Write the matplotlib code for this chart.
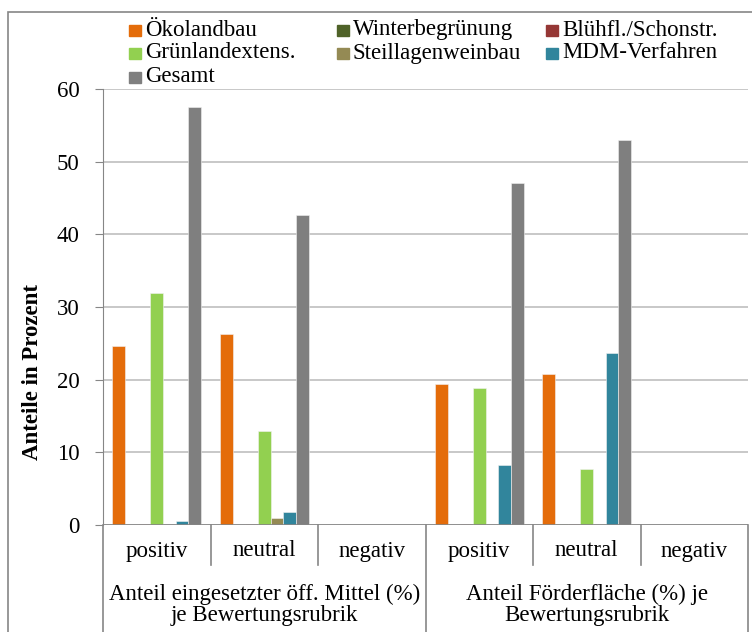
import matplotlib
matplotlib.use('Agg')
import matplotlib.pyplot as plt
from matplotlib.patches import Rectangle
import matplotlib.transforms as mtransforms
import numpy as np

plt.rcParams['font.family'] = ['Liberation Serif', 'DejaVu Serif']

# Kategorien (Bewertungsrubriken) und Obergruppen
rubriken = ['positiv', 'neutral', 'negativ', 'positiv', 'neutral', 'negativ']
obergruppen = ['Anteil eingesetzter öff. Mittel (%)\nje Bewertungsrubrik',
               'Anteil Förderfläche (%) je\nBewertungsrubrik']

# Werte je Maßnahme (Prozent)
oekolandbau = [24.7, 26.3, 0, 19.4, 20.8, 0]
winterbegruenung = [0, 0, 0, 0, 0.2, 0]
bluehfl = [0.2, 0.2, 0, 0.2, 0.2, 0]
gruenland = [31.9, 13.0, 0, 18.9, 7.7, 0]
steillagen = [0, 1.0, 0, 0, 0.2, 0]
mdm = [0.6, 1.8, 0, 8.2, 23.7, 0]
gesamt = [57.5, 42.6, 0, 47.0, 53.0, 0]

namen = ['Ökolandbau', 'Winterbegrünung', 'Blühfl./Schonstr.', 'Grünlandextens.',
         'Steillagenweinbau', 'MDM-Verfahren', 'Gesamt']
farben = ['#E46C0A', '#4F6228', '#953735', '#92D050', '#948A54', '#31859C', '#7F7F7F']
reihen = [oekolandbau, winterbegruenung, bluehfl, gruenland, steillagen, mdm, gesamt]

W, H = 752, 632
fig = plt.figure(figsize=(W/100, H/100), dpi=100)
ax = fig.add_axes([103/W, 1-525/H, 645/W, 436/H])

# Rahmen um das Diagramm
fig.patches.append(Rectangle((8/W, -0.1), 1.2, 1-12/H+0.1, transform=fig.transFigure,
                             fill=False, edgecolor='#868686', linewidth=1.2))

w = 1/8.5
x = np.arange(len(rubriken))
for i, (werte, farbe) in enumerate(zip(reihen, farben)):
    ax.bar(x + 0.75*w + i*w + w/2, werte, width=w, color=farbe,
           edgecolor='#F2F2F2', linewidth=0.4)

ax.set_xlim(0, 6)
ax.set_ylim(0, 60)
ax.set_yticks(range(0, 61, 10))
ax.yaxis.grid(True, color='#BFBFBF', linewidth=1.2)
ax.set_axisbelow(True)
for s in ['top', 'right', 'bottom']:
    ax.spines[s].set_visible(False)
ax.spines['left'].set_color('#868686')
ax.tick_params(axis='y', length=6, color='#868686', labelsize=16.5, pad=11)
ax.set_xticks([])
ax.axhline(0, color='#868686', linewidth=1.2, zorder=3)

# zweistufige Kategorienachse
trans = mtransforms.blended_transform_factory(ax.transData, ax.transAxes)
unten = -107/436
for k in range(7):
    y0 = unten if k % 3 == 0 else -40/436
    ax.plot([k, k], [0, y0], transform=trans, color='#868686', lw=1.2, clip_on=False)
for k, r in enumerate(rubriken):
    ax.text(k + 0.5, -26/436, r, transform=trans, ha='center', va='center', fontsize=16.5)
for k, g in enumerate(obergruppen):
    ax.text(3*k + 1.5, -80/436, g, transform=trans, ha='center', va='center',
            fontsize=16.5, linespacing=1.0)

fig.text(33/W, 1-372/H, 'Anteile in Prozent', rotation=90, ha='center', va='center',
         fontsize=16.5, fontweight='bold')

# Legende: drei Spalten, zeilenweise gefüllt
spalten_x = [145, 353, 562]
zeilen_y = [30, 53, 77]
for i, (name, farbe) in enumerate(zip(namen, farben)):
    tx = spalten_x[i % 3]
    ty = zeilen_y[i // 3]
    fig.patches.append(Rectangle(((tx-16)/W, 1-(ty+6)/H), 12/W, 11/H,
                                 transform=fig.transFigure, color=farbe))
    fig.text(tx/W, 1-ty/H, name, ha='left', va='center', fontsize=16.5)

fig.savefig('out.png', dpi=100)
